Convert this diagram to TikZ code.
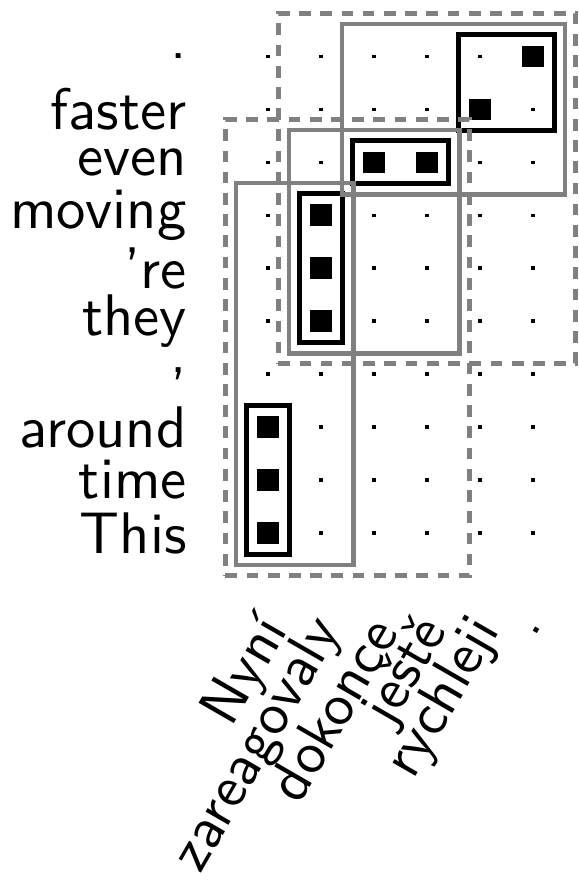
\documentclass[tikz,border=0pt]{standalone}
\usepackage{fontspec}
\usepackage{tikz}
\usetikzlibrary{fit}
\newfontfamily\lmsansten[Ligatures=TeX]{lmsans10-regular.otf}

\begin{document}
\begin{tikzpicture}[every node/.style={font=\fontsize{31.5pt}{36pt}\lmsansten, inner sep=0pt},
    cell/.style={minimum size=0.4cm},
    hit/.style={cell, fill=black},
    alnbox/.style={draw=black, line width=2.7pt, inner sep=0.2cm},
    phrbox/.style={draw=gray, line width=2.5pt, inner sep=0.4cm},
    dashbox/.style={draw=gray, line width=2.6pt, inner sep=0.6cm, dash pattern=on 6.3pt off 5.1pt}]
  \useasboundingbox (-5.06,-6.55) rectangle (5.85,10.06);
  % grid of cells, one small dot each
  \foreach \i in {0,...,5}
    \foreach \j in {0,...,9} {
      \node[cell] (c\i\j) at (\i,\j) {};
      \fill (c\i\j.center) ++(-0.03,-0.03) rectangle ++(0.06,0.06);
    }
  % alignment points
  \foreach \i/\j in {0/0,0/1,0/2,1/4,1/5,1/6,2/7,3/7,4/8,5/9}
    \node[hit] (a\i\j) at (c\i\j) {};

  % minimal blocks
  \node[alnbox, fit=(c00)(c02)] (al1) {};
  \node[alnbox, fit=(c14)(c16)] (al2) {};
  \node[alnbox, fit=(c27)(c37)] (al3) {};
  \node[alnbox, fit=(c48)(c59)] (al4) {};
  % phrase pairs
  \node[phrbox, fit=(c00)(c16)] (ph1) {};
  \node[phrbox, fit=(c14)(c37)] (ph2) {};
  \node[phrbox, fit=(c27)(c59)] (ph3) {};
  \node[dashbox, fit=(c00)(c37)] (ph4) {};
  \node[dashbox, fit=(c14)(c59)] (ph5) {};

  % target words
  \foreach \w [count=\j from 0] in {This,time,around,{,},they,'re,moving,even,faster,.}
    \node[anchor=east] (t\j) at (-1.53,\j) {\w};
  % source words
  \foreach \w [count=\i from 0] in {Nyní,zareagovaly,dokonce,ještě,rychleji,.}
    \node[rotate=60, anchor=east] (s\i) at (\i+0.15,-1.70) {\w};
\end{tikzpicture}
\end{document}
